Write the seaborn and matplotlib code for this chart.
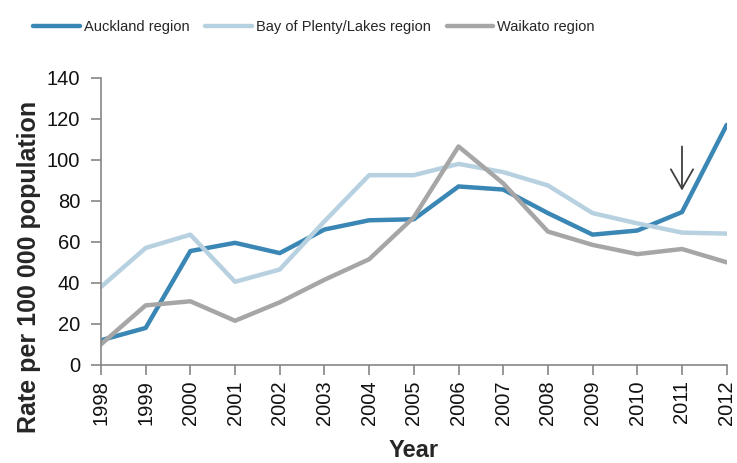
import pandas as pd
import seaborn as sns
import matplotlib.pyplot as plt

# Data
years = list(range(1998, 2013))
auckland = [12, 18, 55.5, 59.5, 54.5, 66, 70.5, 71, 87, 85.5, 74, 63.5, 65.5, 74.5, 117]
bay_of_plenty = [38, 57, 63.5, 40.5, 46.5, 70, 92.5, 92.5, 98, 94, 87.5, 74, 69, 64.5, 64]
waikato = [10, 29, 31, 21.5, 30.5, 41.5, 51.5, 72, 106.5, 88.5, 65, 58.5, 54, 56.5, 50]
series_names = ['Auckland region', 'Bay of Plenty/Lakes region', 'Waikato region']

df = pd.DataFrame({'Year': years,
                   series_names[0]: auckland,
                   series_names[1]: bay_of_plenty,
                   series_names[2]: waikato})
long_df = df.melt(id_vars='Year', var_name='Region', value_name='Rate')

sns.set_style('white')
plt.rcParams['font.family'] = ['Liberation Sans', 'DejaVu Sans']

palette = {'Auckland region': '#3A87B5',
           'Bay of Plenty/Lakes region': '#B7D1E1',
           'Waikato region': '#A6A6A6'}

fig, ax = plt.subplots(figsize=(7.37, 4.63), dpi=100)
fig.subplots_adjust(left=0.137, right=0.986, top=0.832, bottom=0.212)

sns.lineplot(data=long_df, x='Year', y='Rate', hue='Region', palette=palette,
             linewidth=3.2, ax=ax, legend=True)

# arrow marking 2011
ax.annotate('', xy=(2011, 85), xytext=(2011, 106.5),
            arrowprops=dict(arrowstyle='->,head_length=0.7,head_width=0.4',
                            color='#404040', lw=1.3, mutation_scale=20,
                            shrinkA=0, shrinkB=0))

ax.set_xlim(1998, 2012)
ax.set_ylim(0, 140)
ax.set_xticks(years)
ax.set_xticklabels([str(y) for y in years], rotation=90, fontsize=14.5)
ax.set_yticks(range(0, 141, 20))
ax.tick_params(axis='y', labelsize=14.5, pad=8)
ax.tick_params(axis='x', pad=4)
ax.tick_params(direction='out', length=7, width=1.2, color='#868686',
               labelcolor='#111111', bottom=True, left=True)

for side in ['top', 'right']:
    ax.spines[side].set_visible(False)
for side in ['left', 'bottom']:
    ax.spines[side].set_color('#868686')
    ax.spines[side].set_linewidth(1.2)

ax.set_xlabel('Year', fontsize=17, fontweight='bold', va='center')
ax.set_ylabel('Rate per 100 000 population', fontsize=18, fontweight='bold', va='center')
ax.xaxis.set_label_coords(0.5, -0.30)
ax.yaxis.set_label_coords(-0.115, 0.34)

leg = ax.legend(title=None, loc='center left', bbox_to_anchor=(-0.108, 1.178), ncol=3,
                frameon=False, fontsize=10.5,
                handlelength=3.2, columnspacing=1.1, handletextpad=0.25,
                borderaxespad=0, borderpad=0)

plt.savefig('out.png', dpi=100)
